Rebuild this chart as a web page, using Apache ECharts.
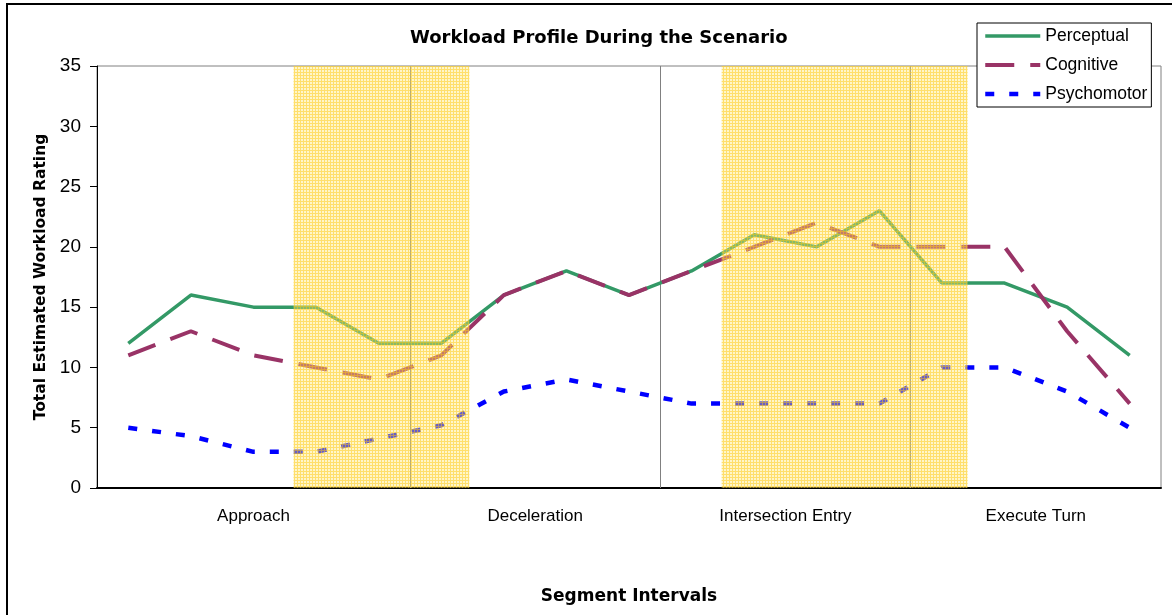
<!DOCTYPE html>
<html>
<head>
<meta charset="utf-8">
<title>Workload Profile During the Scenario</title>
<script src="https://cdn.jsdelivr.net/npm/echarts@6/dist/echarts.min.js"></script>
<style>
  html, body { margin: 0; padding: 0; background: #fff; }
  #chart { width: 1172px; height: 615px; }
</style>
</head>
<body>
<div id="chart"></div>
<script>
// Interval index along the scenario (17 sampled intervals)
const intervals = ['1','2','3','4','5','6','7','8','9','10','11','12','13','14','15','16','17'];

// Total estimated workload ratings per interval
const perceptual  = [12, 16, 15, 15, 12, 12, 16, 18, 16, 18, 21, 20, 23, 17, 17, 15, 11];
const cognitive   = [11, 13, 11, 10, 9, 11, 16, 18, 16, 18, 20, 22, 20, 20, 20, 13, 7];
const psychomotor = [5, 4.3, 3, 3, 4.1, 5.2, 8, 9, 8, 7, 7, 7, 7, 10, 10, 8, 5];

// Scenario segments, as interval boundaries
const segmentNames = ['Approach', 'Deceleration', 'Intersection Entry', 'Execute Turn'];
const segmentBounds = [0, 5, 9, 13, 17];

// Highlighted stretches (in interval units)
const highlightBands = [[3.14, 5.95], [9.98, 13.91]];

// Y axis ticks
const yMin = 0, yMax = 35, yStep = 5;

const FONT = 'Liberation Sans, Arial, sans-serif';
const BOLD_FONT = 'DejaVu Sans, Liberation Sans, sans-serif';

// label positions for the segment names (midpoint of each segment)
const segmentMid = {};
segmentNames.forEach(function (n, i) {
  segmentMid[((segmentBounds[i] + segmentBounds[i + 1]) / 2).toFixed(1)] = n;
});

// fine yellow grid fill for the highlighted stretches
function bandPattern() {
  const c = document.createElement('canvas');
  c.width = 3; c.height = 3;
  const g = c.getContext('2d');
  g.fillStyle = 'rgba(255,232,120,0.4)';
  g.fillRect(0, 0, 3, 3);
  g.clearRect(0, 0, 3, 1);
  g.clearRect(0, 0, 1, 3);
  g.fillStyle = 'rgba(255,210,45,0.7)';
  g.fillRect(0, 0, 3, 1);
  g.fillRect(0, 1, 1, 2);
  return c;
}

const chart = echarts.init(document.getElementById('chart'), null, { renderer: 'canvas' });

chart.setOption({
  animation: false,
  backgroundColor: '#fff',
  textStyle: { fontFamily: FONT, color: '#000' },
  title: {
    text: 'Workload Profile During the Scenario',
    left: 410,
    top: 29,
    padding: 0,
    textStyle: { fontFamily: BOLD_FONT, fontSize: 18, fontWeight: 'bold', color: '#000' }
  },
  legend: {
    orient: 'vertical',
    left: 977,
    top: 23,
    padding: [4, 4, 4, 6],
    itemGap: 11,
    itemWidth: 55,
    itemHeight: 2,
    backgroundColor: '#fff',
    borderColor: '#000',
    borderWidth: 1,
    lineStyle: { width: 'inherit' },
    textStyle: { fontFamily: FONT, fontSize: 17.5, color: '#000', lineHeight: 18 },
    data: ['Perceptual', 'Cognitive', 'Psychomotor']
  },
  grid: {
    left: 97, top: 66, right: 11, bottom: 127,
    show: true,
    borderColor: '#808080',
    borderWidth: 1,
    containLabel: false
  },
  graphic: [{
    type: 'rect',
    silent: true,
    z: 100,
    shape: { x: 7, y: 4, width: 1200, height: 700 },
    style: { fill: 'none', stroke: '#000', lineWidth: 2 }
  }],
  xAxis: [{
    type: 'category',
    data: intervals,
    boundaryGap: true,
    show: false
  }, {
    type: 'value',
    min: 0,
    max: 17,
    interval: 0.5,
    position: 'bottom',
    name: 'Segment Intervals',
    nameLocation: 'middle',
    nameGap: 100,
    nameTextStyle: { fontFamily: BOLD_FONT, fontSize: 17, fontWeight: 'bold', color: '#000' },
    axisLine: { show: true, lineStyle: { color: '#000', width: 2 } },
    axisTick: { show: false },
    splitLine: { show: false },
    axisLabel: {
      margin: 20,
      fontFamily: FONT,
      fontSize: 17,
      color: '#000',
      showMinLabel: true,
      showMaxLabel: true,
      formatter: function (v) { return segmentMid[v.toFixed(1)] || ''; }
    }
  }],
  yAxis: {
    type: 'value',
    min: yMin,
    max: yMax,
    interval: yStep,
    name: 'Total Estimated Workload Rating',
    nameLocation: 'middle',
    nameGap: 47,
    nameTextStyle: { fontFamily: BOLD_FONT, fontSize: 15.5, fontWeight: 'bold', color: '#000' },
    axisLine: { show: true, lineStyle: { color: '#000', width: 1 } },
    axisTick: { show: true, length: 7, inside: false, lineStyle: { color: '#000' } },
    splitLine: { show: false },
    axisLabel: { margin: 16, fontFamily: FONT, fontSize: 19, color: '#000' }
  },
  series: [
    {
      // segment dividers
      name: 'dividers',
      type: 'line',
      xAxisIndex: 1,
      data: [],
      z: 1,
      silent: true,
      markLine: {
        silent: true,
        z: 1,
        symbol: ['none', 'none'],
        label: { show: false },
        lineStyle: { color: '#808080', width: 1, type: 'solid' },
        data: segmentBounds.slice(1, -1).map(function (b) { return { xAxis: b }; })
      }
    },
    {
      name: 'Perceptual',
      type: 'line',
      data: perceptual,
      symbol: 'none',
      z: 3,
      lineStyle: { color: '#339966', width: 3.5 },
      itemStyle: { color: '#339966' }
    },
    {
      name: 'Cognitive',
      type: 'line',
      data: cognitive,
      symbol: 'none',
      z: 3,
      lineStyle: { color: '#993366', width: 4, type: [29, 16] },
      itemStyle: { color: '#993366' }
    },
    {
      name: 'Psychomotor',
      type: 'line',
      data: psychomotor,
      symbol: 'none',
      z: 3,
      lineStyle: { color: '#0000FF', width: 4.5, type: [9, 15] },
      itemStyle: { color: '#0000FF' }
    },
    {
      // highlighted stretches, laid over the lines
      name: 'bands',
      type: 'line',
      xAxisIndex: 1,
      data: [],
      z: 10,
      silent: true,
      markArea: {
        silent: true,
        z: 10,
        itemStyle: { color: { image: bandPattern(), repeat: 'repeat' }, opacity: 1 },
        data: highlightBands.map(function (b) { return [{ xAxis: b[0] }, { xAxis: b[1] }]; })
      }
    }
  ]
});
</script>
</body>
</html>
